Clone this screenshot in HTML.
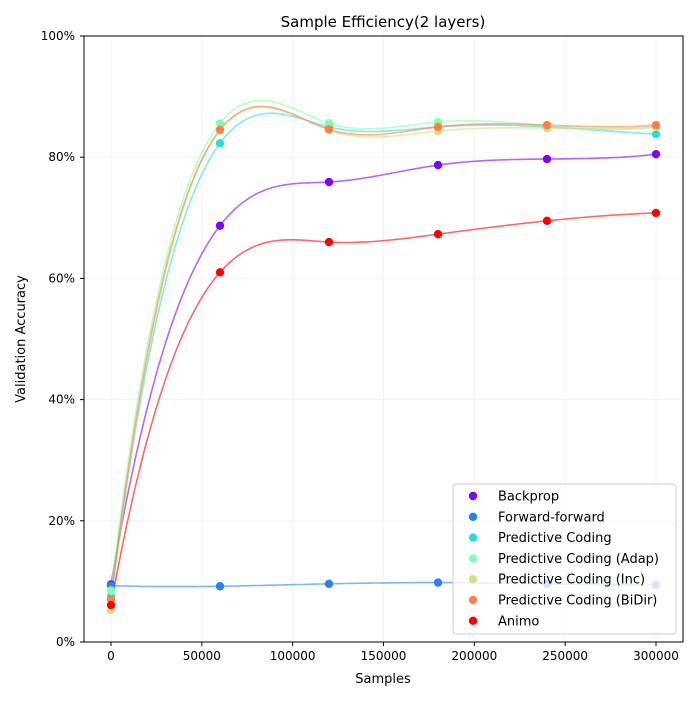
<!DOCTYPE html>
<html><head><meta charset="utf-8"><style>
body{margin:0;background:#fff;font-family:"Liberation Sans","DejaVu Sans",sans-serif}
svg text{font-family:"DejaVu Sans","Liberation Sans",sans-serif}
</style></head><body>
<svg id="chart" width="700" height="700" xmlns="http://www.w3.org/2000/svg">
<rect width="700" height="700" fill="#fff"/>
<g id="grid"></g><g id="lines"></g><g id="pts"></g>
<rect x="84" y="36" width="599" height="606" fill="none" stroke="#000" stroke-width="1"/>
<g id="axes"></g>
<text x="383" y="27" text-anchor="middle" font-size="15">Sample Efficiency(2 layers)</text>
<text x="383" y="683" text-anchor="middle" font-size="13">Samples</text>
<text transform="translate(25,339) rotate(-90)" text-anchor="middle" font-size="13">Validation Accuracy</text>
<g id="legend"></g>
</svg>
<script>
const samples=[0,60000,120000,180000,240000,300000];
const seriesNames=["Backprop","Forward-forward","Predictive Coding","Predictive Coding (Adap)","Predictive Coding (Inc)","Predictive Coding (BiDir)","Animo"];
const backprop=[9.5,68.7,75.9,78.7,79.7,80.5];
const forwardForward=[9.3,9.2,9.6,9.8,9.6,9.4];
const predictiveCoding=[7.5,82.3,85.0,85.0,85.0,83.8];
const pcAdap=[8.5,85.6,85.6,85.8,85.2,85.0];
const pcInc=[5.3,84.5,84.5,84.3,84.8,85.0];
const pcBiDir=[7.0,84.5,84.6,85.0,85.3,85.3];
const animo=[6.1,61.0,66.0,67.3,69.5,70.8];
const allSeries=[backprop,forwardForward,predictiveCoding,pcAdap,pcInc,pcBiDir,animo];
const colors=["#8000ff","#2a80f6","#2adddd","#80ffb4","#d4dd80","#ff8042","#ff0000"];
const xTicks=[0,50000,100000,150000,200000,250000,300000];
const yTicks=[0,20,40,60,80,100];
const NS="http://www.w3.org/2000/svg";
const X=v=>111+v*545/300000, Y=v=>642-v*6.06;
function mk(t,a,p){const e=document.createElementNS(NS,t);for(const k in a)e.setAttribute(k,a[k]);p.appendChild(e);return e;}
const grid=document.getElementById('grid'),axes=document.getElementById('axes');
xTicks.forEach(t=>{
 const g=mk('line',{x1:X(t),x2:X(t),y1:36,y2:642,stroke:'#f0f0f0','stroke-width':0.8},grid);
 
 
 mk('line',{x1:X(t),x2:X(t),y1:642,y2:646,stroke:'#000'},axes);
 const l=mk('text',{x:X(t),y:660,'text-anchor':'middle','font-size':12},axes);l.textContent=t;
 
 
});
yTicks.forEach(t=>{
 const g=mk('line',{x1:84,x2:683,y1:Y(t),y2:Y(t),stroke:'#f0f0f0','stroke-width':0.8},grid);
 
 
 mk('line',{x1:80,x2:84,y1:Y(t),y2:Y(t),stroke:'#000'},axes);
 const l=mk('text',{x:75,y:Y(t)+4,'text-anchor':'end','font-size':12},axes);l.textContent=t+'%';
 
 
});
function solve(A,b){const n=b.length;for(let i=0;i<n;i++){let p=i;for(let r=i+1;r<n;r++)if(Math.abs(A[r][i])>Math.abs(A[p][i]))p=r;
 [A[i],A[p]]=[A[p],A[i]];[b[i],b[p]]=[b[p],b[i]];
 for(let r=i+1;r<n;r++){const f=A[r][i]/A[i][i];for(let c=i;c<n;c++)A[r][c]-=f*A[i][c];b[r]-=f*b[i];}}
 const x=new Array(n).fill(0);for(let i=n-1;i>=0;i--){let s=b[i];for(let c=i+1;c<n;c++)s-=A[i][c]*x[c];x[i]=s/A[i][i];}return x;}
function spline(xs,ys){const n=xs.length,h=[];for(let i=0;i<n-1;i++)h.push(xs[i+1]-xs[i]);
 const A=[],b=[];for(let i=0;i<n;i++){A.push(new Array(n).fill(0));b.push(0);}
 A[0][0]=h[1];A[0][1]=-(h[0]+h[1]);A[0][2]=h[0];
 A[n-1][n-3]=h[n-2];A[n-1][n-2]=-(h[n-3]+h[n-2]);A[n-1][n-1]=h[n-3];
 for(let i=1;i<n-1;i++){A[i][i-1]=h[i-1];A[i][i]=2*(h[i-1]+h[i]);A[i][i+1]=h[i];
  b[i]=6*((ys[i+1]-ys[i])/h[i]-(ys[i]-ys[i-1])/h[i-1]);}
 const M=solve(A,b);
 return x=>{let j=0;while(j<n-2&&x>xs[j+1])j++;const hh=h[j],a=xs[j+1]-x,c=x-xs[j];
  return M[j]*a*a*a/(6*hh)+M[j+1]*c*c*c/(6*hh)+(ys[j]/hh-M[j]*hh/6)*a+(ys[j+1]/hh-M[j+1]*hh/6)*c;};}
const lines=document.getElementById('lines'),pts=document.getElementById('pts');
allSeries.forEach((s,k)=>{
 const f=spline(samples,s);let p='';
 for(let i=0;i<=300;i++){const x=i*1000;p+=(i?'L':'M')+X(x).toFixed(1)+','+Y(f(x)).toFixed(1);}
 const e=mk('path',{d:p,fill:'none',stroke:colors[k],'stroke-width':1.6,'stroke-opacity':0.6},lines);
 
 
 s.forEach((v,i)=>{const c=mk('circle',{cx:X(samples[i]),cy:Y(v),r:4.2,fill:colors[k]},pts);
  
  });
});
const lg=document.getElementById('legend');
const box=mk('rect',{x:453,y:484,width:223,height:150,rx:3,fill:'#fff','fill-opacity':0.8,stroke:'#ccc'},lg);


seriesNames.forEach((n,k)=>{const y=496+k*20.8;
 const c=mk('circle',{cx:473,cy:y,r:4.2,fill:colors[k]},lg);
 
 
 const t=mk('text',{x:498,y:y+4.5,'font-size':13},lg);t.textContent=n;
 
 
});
</script>
</body></html>
